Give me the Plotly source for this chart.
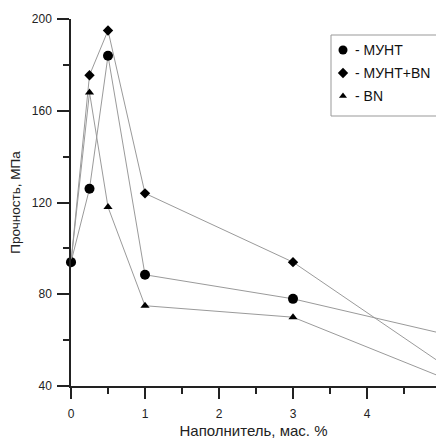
import plotly.graph_objects as go

x_vals = [0, 0.25, 0.5, 1, 3, 5]
munt = [94, 126, 184, 88.5, 78, 63]
munt_bn = [94, 175.5, 195, 124, 94, 50]
bn = [94, 168, 118, 75, 70, 44]
names = ["- МУНТ", "- МУНТ+BN", "- BN"]
symbols = ["circle", "diamond", "triangle-up"]
sizes = [10, 8, 8]

W, H = 436, 439
ml, mt, mb = 71, 19, 53
px_per_unit = 74.0
xmax = (W - ml) / px_per_unit
ymin, ymax = 40, 200
plot_w, plot_h = W - ml, H - mt - mb


def px_to_paper(px, py):
    return (px - ml) / plot_w, 1 - (py - mt) / plot_h


def px_to_data(px, py):
    return (px - ml) / px_per_unit, ymax - (py - mt) * (ymax - ymin) / plot_h


fig = go.Figure()
for ys, nm, sym, sz in zip([munt, munt_bn, bn], names, symbols, sizes):
    fig.add_trace(go.Scatter(
        x=x_vals, y=ys, mode="lines+markers", name=nm, showlegend=False,
        line=dict(color="#9a9a9a", width=1),
        marker=dict(symbol=sym, size=sz, color="black"),
        cliponaxis=False,
    ))

# manual legend (pixel layout converted to paper / axis units)
leg_left, leg_top, leg_bottom = 331, 35, 116
row_y = [50, 73, 96]
mark_x, text_x = 343, 353
for nm, sym, sz, ry in zip(names, symbols, [9, 8, 7], row_y):
    mx, my = px_to_data(mark_x, ry)
    fig.add_trace(go.Scatter(
        x=[mx], y=[my], mode="markers",
        showlegend=False, hoverinfo="skip", cliponaxis=False,
        marker=dict(symbol=sym, size=sz, color="black"),
    ))
    tx, ty = px_to_paper(text_x, ry)
    fig.add_annotation(
        x=tx, y=ty, xref="paper", yref="paper", text=nm, showarrow=False,
        xanchor="left", yanchor="middle", font=dict(size=14, color="#111"),
    )
x0p, y0p = px_to_paper(leg_left, leg_top)
x1p, y1p = px_to_paper(W + 20, leg_bottom)
fig.add_shape(
    type="rect", xref="paper", yref="paper", x0=x0p, x1=x1p, y0=y1p, y1=y0p,
    line=dict(color="#999", width=1), fillcolor="rgba(0,0,0,0)", layer="below",
)

fig.update_layout(
    width=W, height=H,
    margin=dict(l=ml, r=0, t=mt, b=mb, pad=0),
    plot_bgcolor="white", paper_bgcolor="white",
    font=dict(family="Liberation Sans, Arial, sans-serif", size=12, color="#222"),
    showlegend=False,
    xaxis=dict(
        range=[0, xmax], showgrid=False, zeroline=False,
        showline=True, linecolor="#222", linewidth=1.5,
        ticks="outside", ticklen=11, tickwidth=1.5, tickcolor="#222",
        dtick=1, tick0=0,
        minor=dict(ticks="outside", ticklen=6, tickwidth=1.5, tickcolor="#222", dtick=0.5),
        tickfont=dict(size=12), ticklabelstandoff=5,
        title=dict(text="Наполнитель, мас. %", font=dict(size=15), standoff=6),
    ),
    yaxis=dict(
        range=[ymin, ymax], showgrid=False, zeroline=False,
        showline=True, linecolor="#222", linewidth=1.5,
        ticks="outside", ticklen=12, tickwidth=1.5, tickcolor="#222",
        dtick=40, tick0=40,
        minor=dict(ticks="outside", ticklen=6, tickwidth=1.5, tickcolor="#222", dtick=20),
        tickfont=dict(size=12), ticklabelstandoff=3,
        title=dict(text="Прочность, МПа", font=dict(size=13.5), standoff=8),
    ),
)

fig.write_html("out.html")
